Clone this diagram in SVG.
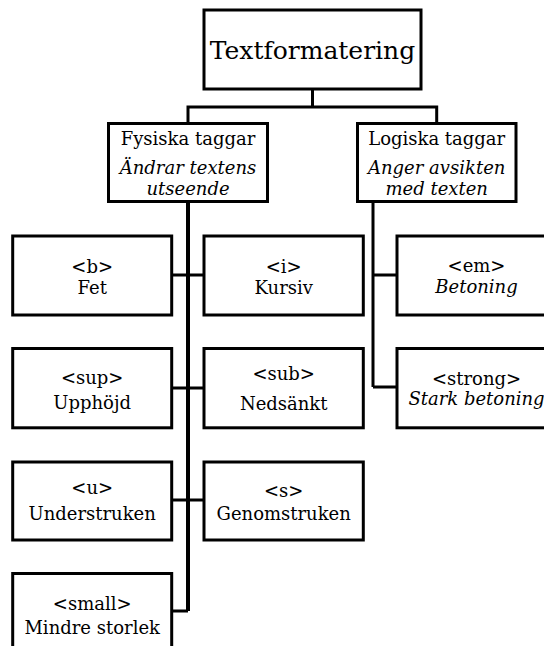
<svg xmlns="http://www.w3.org/2000/svg" width="544" height="646" viewBox="0 0 544 646">
<style>
rect{fill:#fff;stroke:#000;stroke-width:3}
.c path{fill:none;stroke:#000;stroke-width:3}
.c .trunk{stroke-width:4}
text{font-family:"DejaVu Serif","Liberation Serif",serif;font-size:18px;text-anchor:middle;fill:#000}
.t{font-size:25px}
.i{font-style:italic}
</style>
<g class="c" id="connectors">
<path d="M312.5,89 V107 M188,107 H436.7 M188,105.5 V123 M436.7,105.5 V123"/>
<path class="trunk" d="M188,202 V611"/>
<path d="M188,275 H172 M188,275 H204 M188,388 H172 M188,388 H204 M188,500 H172 M188,500 H204 M188,611 H172"/>
<path d="M373,202 V387 M373,275 H397 M373,387 H397"/>
</g>
<g id="n-root"><rect x="204" y="10" width="217" height="79"/><text class="t" x="312.5" y="59">Textformatering</text></g>
<g id="n-fysiska"><rect x="108.5" y="123.5" width="159" height="78"/><text x="188" y="144.5">Fysiska taggar</text><text class="i" x="188" y="174">Ändrar textens</text><text class="i" x="188" y="194.5">utseende</text></g>
<g id="n-logiska"><rect x="357.5" y="123.5" width="158.5" height="78"/><text x="436.7" y="144.5">Logiska taggar</text><text class="i" x="436.7" y="174">Anger avsikten</text><text class="i" x="436.7" y="194.5">med texten</text></g>
<g id="n-b"><rect x="12.7" y="236" width="159" height="79"/><text x="92.2" y="273">&lt;b&gt;</text><text x="92.2" y="294">Fet</text></g>
<g id="n-i"><rect x="204" y="236" width="159.3" height="79"/><text x="283.7" y="272.5">&lt;i&gt;</text><text x="283.7" y="294">Kursiv</text></g>
<g id="n-sup"><rect x="12.7" y="348.5" width="159" height="79.3"/><text x="92.2" y="383.5">&lt;sup&gt;</text><text x="92.2" y="408.5">Upphöjd</text></g>
<g id="n-sub"><rect x="204" y="348.5" width="159.3" height="79.3"/><text x="283.7" y="380">&lt;sub&gt;</text><text x="283.7" y="410">Nedsänkt</text></g>
<g id="n-u"><rect x="12.7" y="462" width="159" height="78"/><text x="92.2" y="494">&lt;u&gt;</text><text x="92.2" y="520">Understruken</text></g>
<g id="n-s"><rect x="204" y="462" width="159.3" height="78"/><text x="283.7" y="496.5">&lt;s&gt;</text><text x="283.7" y="520">Genomstruken</text></g>
<g id="n-small"><rect x="12.7" y="573.5" width="159" height="79"/><text x="92.2" y="610">&lt;small&gt;</text><text x="92.2" y="633.5">Mindre storlek</text></g>
<g id="n-em"><rect x="397" y="236" width="159" height="79"/><text x="476.5" y="271.5">&lt;em&gt;</text><text class="i" x="476.5" y="292.5">Betoning</text></g>
<g id="n-strong"><rect x="397" y="348.5" width="159" height="79.3"/><text x="476.5" y="385">&lt;strong&gt;</text><text class="i" x="476.5" y="405">Stark betoning</text></g>
</svg>
